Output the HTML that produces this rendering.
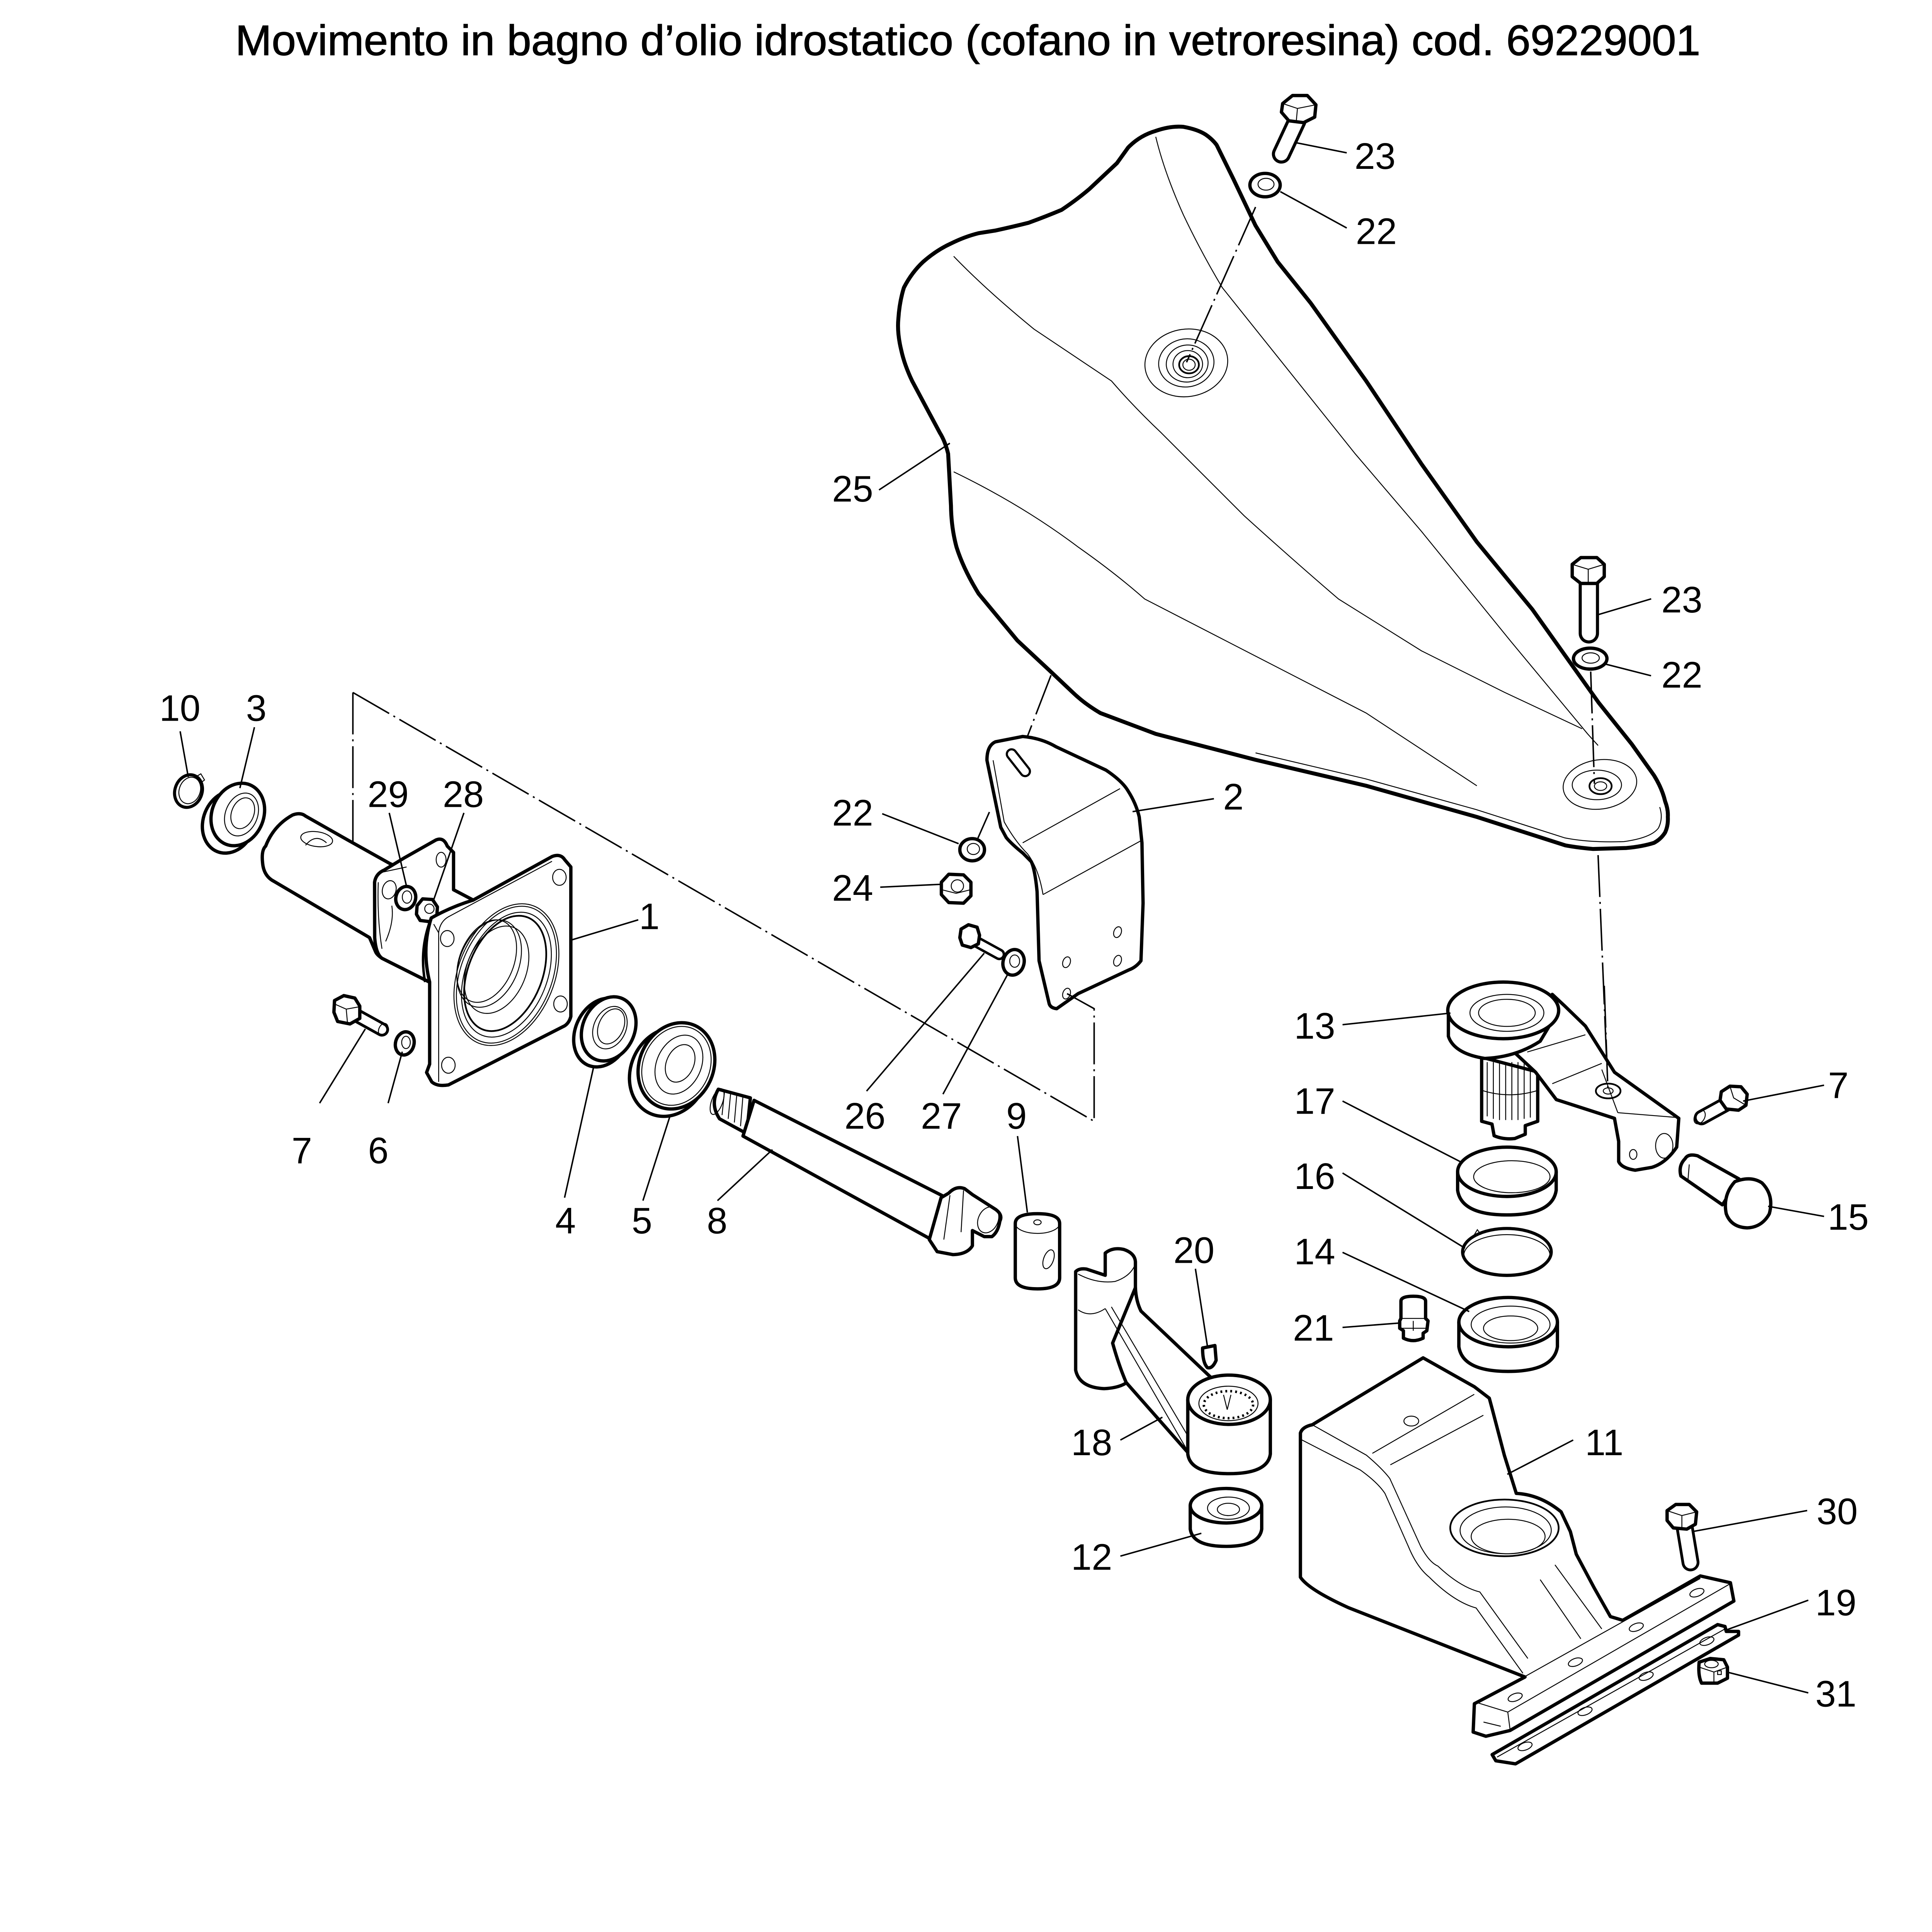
<!DOCTYPE html>
<html>
<head>
<meta charset="utf-8">
<style>
html,body{margin:0;padding:0;background:#fff;overflow:hidden;}
svg{display:block;position:absolute;left:0;top:0;width:100vw;height:calc(100vw * 5024 / 5342);}
.k{fill:#fff;stroke:#000;stroke-width:2.7;stroke-linejoin:round;stroke-linecap:round}
.kh{fill:#fff;stroke:#000;stroke-width:3.2;stroke-linejoin:round;stroke-linecap:round}
.t{fill:none;stroke:#000;stroke-width:0.75}
.m{fill:none;stroke:#000;stroke-width:1.4}
.l{fill:none;stroke:#000;stroke-width:1.2}
.d{fill:none;stroke:#000;stroke-width:1.2;stroke-dasharray:34 4 1.6 4}
text{font-family:"Liberation Sans",Arial,sans-serif;font-size:30px;fill:#000;text-anchor:middle}
</style>
</head>
<body>
<svg xmlns="http://www.w3.org/2000/svg" width="5342" height="5024" viewBox="0 0 1568 1474.6" preserveAspectRatio="xMidYMid meet">
<rect x="0" y="0" width="1568" height="1474.6" fill="#fff"/>

<!-- Title -->
<text x="785.5" y="44.6" style="font-size:34.5px;stroke:#000;stroke-width:0.45" textLength="1189" lengthAdjust="spacingAndGlyphs">Movimento in bagno d’olio idrostatico (cofano in vetroresina) cod. 69229001</text>

<!-- ===== HOOD 25 ===== -->
<path class="kh" d="M906.5,132.4 L915.6,119.7 Q925,110 938,106.2 Q950,102 960.5,102.9 Q972,105 978.5,109.2 Q984,113 987.4,117.6 L1000.9,145 L1018.9,182.9 L1036.9,212.4 L1063.8,246 L1108.8,309.2 L1153.7,376.6 L1198.6,439.8 L1243.6,494.5 L1279.5,545 L1297.5,570.3 L1324.4,604 L1342.4,629.3 Q1349,640 1351.4,650.3 Q1354,657 1353.6,663 Q1354,670 1351.4,675.6 Q1348,681 1342.4,684 Q1333,687 1320,688.2 L1293,689 Q1281,688 1270.5,686.1 L1198.6,663 L1108.8,637.7 L1018.9,616.6 L938,595.6 L893.1,578.7 Q880,571 870.6,561.9 L852.7,545 L825.7,519.8 L794.3,481.9 Q782,462 776.3,444 Q772,428 771.8,410.3 L769.5,368.2 Q767,358 762.8,351.3 L753.8,334.5 L740.3,309.2 Q734,296 731.4,284 Q728,270 729.1,258.7 Q730,245 733.6,233.4 Q740,221 749.3,212.4 Q760,203 771.8,197.6 Q783,192 794.3,189.2 L807.7,187.1 Q822,184 834.7,180.8 Q848,176 861.6,170.3 Q874,162 884.1,153.4 Z"/>
<path class="t" d="M938,111 Q945,140 960.5,174.5 Q975,205 992,233.4 L1045.9,300.8 L1099.8,368.2 L1153.7,431.3 L1225.6,519.8 L1288.5,595.6 L1297,605"/>
<path class="t" d="M774,208 Q800,235 839.2,267.1 L902.1,309.2 Q920,330 942.5,351.3 L1009.9,418.7 Q1050,455 1086.3,486.1 L1153.7,528.2 L1221.1,561.9 L1284,591.4"/>
<path class="t" d="M774,382.9 Q830,410 875.1,444 Q905,465 929,486.1 L1018.9,532.4 L1108.8,578.7 L1198.6,637.7"/>
<path class="t" d="M1019,611 L1108,632 L1198,657 L1270,680 Q1290,684 1318,683 Q1340,680 1346,672 Q1350,664 1347,655"/>
<ellipse class="t" cx="962.8" cy="294.5" rx="33.7" ry="27.4" transform="rotate(-8 962.8 294.5)"/>
<ellipse class="t" cx="962.8" cy="294.5" rx="22.5" ry="19.5" transform="rotate(-8 962.8 294.5)"/>
<ellipse class="t" cx="963.5" cy="295" rx="17" ry="15" transform="rotate(-8 963.5 295)"/>
<ellipse class="t" cx="964" cy="295.5" rx="12" ry="11"/>
<ellipse class="m" cx="965" cy="296" rx="8" ry="7"/>
<ellipse class="t" cx="965" cy="296" rx="5" ry="4.5"/>
<ellipse class="t" cx="1298.5" cy="636.6" rx="30" ry="20" transform="rotate(-8 1298.5 636.6)"/>
<ellipse class="t" cx="1296" cy="637" rx="20" ry="12"/>
<ellipse class="m" cx="1299" cy="638" rx="9" ry="6.5"/>
<ellipse class="t" cx="1299" cy="638" rx="5" ry="3.5"/>
<path class="d" d="M1019,168 L963,294"/>
<path class="d" d="M1291,545 L1294,636"/>
<path class="d" d="M853,548 L826,618"/>
<path class="d" d="M1297,694 L1305,886"/>

<!-- top bolt 23 and washer 22 -->
<path d="M1052.6,98 L1040,125" stroke="#000" stroke-width="15.5" stroke-linecap="round" fill="none"/>
<path d="M1052.6,98 L1040,125" stroke="#fff" stroke-width="10.5" stroke-linecap="round" fill="none"/>
<polygon class="k" stroke-width="2.2" points="1041,84 1049,77.5 1061,77.5 1068,85 1067,95 1058,99.5 1046,98 1040,91"/>
<path class="t" d="M1041,84 L1053,88 L1068,85 M1053,88 L1052,99"/>
<ellipse class="k" stroke-width="2.5" cx="1026.7" cy="150.2" rx="12.3" ry="9.5"/>
<ellipse class="t" cx="1027.5" cy="149.5" rx="6.5" ry="4.8"/>

<!-- lower bolt 23 and washer 22 -->
<path d="M1289.5,471 L1289.5,514" stroke="#000" stroke-width="16.5" stroke-linecap="round" fill="none"/>
<path d="M1289.5,471 L1289.5,514" stroke="#fff" stroke-width="11.5" stroke-linecap="round" fill="none"/>
<polygon class="k" stroke-width="2.2" points="1276,458 1283,452.5 1296,452.5 1302,458 1302,468 1296,473.5 1283,473.5 1276,468"/>
<path class="t" d="M1276,458 L1289,462 L1302,458 M1289,462 L1289,473"/>
<ellipse class="k" stroke-width="2.5" cx="1290.6" cy="534.5" rx="13.6" ry="8.5"/>
<ellipse class="t" cx="1291" cy="534" rx="7" ry="4.2"/>

<!-- ===== BRACKET 2 ===== -->
<path class="k" d="M801,617 Q801,605 808,602 L830,597.7 Q845,599 857,606 L897.6,625 Q911,634 915.6,642 Q922,652 924.6,663 L926.8,684 L927.7,733 L926,779.7 Q922,785 916.5,787 L875,806.4 L857.6,818.6 Q852,818 851.3,813.7 L843.3,779.7 L841.7,723.7 Q840,706 837,699.3 L830.2,692.4 Q821,685 816.7,679.8 L812.2,671.4 Z"/>
<path class="t" d="M830,684 L909,640 M846.5,726 L926,682.3 M806,617 L815,667 Q824,683 834,693 Q843,705 846.5,726"/>
<ellipse class="t" cx="907" cy="756.5" rx="3" ry="4.5" transform="rotate(20 907 756.5)"/>
<ellipse class="t" cx="907" cy="779.7" rx="3" ry="4.5" transform="rotate(20 907 779.7)"/>
<ellipse class="t" cx="865.6" cy="780.9" rx="3" ry="4.5" transform="rotate(20 865.6 780.9)"/>
<ellipse class="t" cx="865.6" cy="806.4" rx="3" ry="4.5" transform="rotate(20 865.6 806.4)"/>
<path d="M821,612 L832,626" stroke="#000" stroke-width="9.5" stroke-linecap="round"/>
<path d="M821,612 L832,626" stroke="#fff" stroke-width="6" stroke-linecap="round"/>

<!-- left washer 22, nut 24, screw 26, washer 27 -->
<path class="d" d="M792,684 L803,659"/>
<ellipse class="k" stroke-width="2.5" cx="789" cy="689.6" rx="10" ry="9"/>
<ellipse class="t" cx="790" cy="689" rx="5" ry="4.5"/>
<polygon class="k" stroke-width="2.2" points="764,716 770,709.5 782,710 788,716 788,727 782,733 770,732.5 764,726"/>
<circle class="t" cx="777" cy="719" r="5"/>
<path class="t" d="M764,722 L776,725 L788,722"/>
<path d="M790,763 L811,774.5" stroke="#000" stroke-width="9.5" stroke-linecap="round"/>
<path d="M790,763 L811,774.5" stroke="#fff" stroke-width="5.5" stroke-linecap="round"/>
<polygon class="k" stroke-width="2" points="780,754 786,750.5 793,752.5 795,759 794,766 788,769 781,767 779,761"/>
<ellipse class="k" stroke-width="2.5" cx="822.6" cy="781" rx="8.5" ry="10.5" transform="rotate(15 822.6 781)"/>
<ellipse class="t" cx="823.5" cy="780" rx="4" ry="5"/>

<!-- long dash-dot line -->
<path class="d" d="M286.4,562 L888,910 L888,818.6 L866,806.4"/>
<path class="d" d="M286.4,562 L286.4,703.6 L299.9,712"/>

<!-- ===== PART 1 ===== -->
<path class="k" d="M237.5,661.4 Q244,659 248,662.3 L282.2,681.7 L316.7,701 L368,722 L384,730.5 L384,790 L348.7,797.1 L310,777.7 Q306,775 304.9,772.6 L299.9,760.9 L222.4,715.3 Q214,711 213.1,700.2 Q212,690 215.6,686.7 Q222,670 237.5,661.4 Z"/>
<ellipse class="t" cx="257" cy="681" rx="13" ry="6" transform="rotate(8 257 681)"/>
<path class="t" d="M248,686 Q256,676 265,684"/>
<path class="k" d="M304,716 Q305,709 312,706 L328.5,696 L353.8,681.7 Q360,679 363,686.7 L368.1,691.8 L368.1,722.1 L384.1,730.5 L384,790 L348.7,797.1 L310,777.7 Q305,774 304.1,760.9 Z"/>
<path class="t" d="M306.6,708.6 L330,703.6 M313,764 Q320,748 318,735 M310,770 Q306,745 307,716"/>
<ellipse class="t" cx="315.9" cy="722.1" rx="5.5" ry="7.5" transform="rotate(15 315.9 722.1)"/>
<ellipse class="t" cx="358" cy="697.7" rx="4" ry="6"/>
<ellipse class="k" stroke-width="2.2" cx="329.3" cy="728.8" rx="8" ry="9.5" transform="rotate(15 329.3 728.8)"/>
<ellipse class="t" cx="330.3" cy="728" rx="3.8" ry="5"/>
<polygon class="k" stroke-width="2.2" points="338.5,735 343,729.5 351,730 355,736 354.5,744 349,748 341,747 338,742"/>
<circle class="t" cx="348.5" cy="737.5" r="3.8"/>
<path class="k" d="M384,730.5 L448.1,695.1 Q455,692.5 458.3,697.7 L463.3,703.6 L463.3,824.9 Q462,830 458.3,832.5 L363.9,880.5 Q355,882 350.4,878 L346.2,870.4 L348.7,863.6 L348.7,797 Q342,770 350,745 Q366,736 384,730.5 Z"/>
<path class="t" d="M356,878 L356,757 Q357,748 364,744 L448,699 M356,757 L352,750"/>
<path fill="none" stroke="#000" stroke-width="2" d="M350,745 Q340,770 345,797"/>
<ellipse class="t" cx="363" cy="761.7" rx="5.5" ry="6.5"/>
<ellipse class="t" cx="454" cy="712" rx="5.5" ry="6.5"/>
<ellipse class="t" cx="454.9" cy="814.8" rx="5.5" ry="6.5"/>
<ellipse class="t" cx="363.9" cy="864.5" rx="5.5" ry="6.5"/>
<ellipse class="t" cx="411" cy="791" rx="39" ry="60" transform="rotate(22 411 791)"/>
<ellipse class="t" cx="411" cy="791" rx="37" ry="58" transform="rotate(22 411 791)"/>
<ellipse class="t" cx="411" cy="791" rx="33" ry="53" transform="rotate(22 411 791)"/>
<ellipse class="m" cx="410" cy="790" rx="30" ry="49" transform="rotate(22 410 790)"/>
<ellipse class="t" cx="397" cy="782" rx="24" ry="37" transform="rotate(22 397 782)"/>
<ellipse class="t" cx="395" cy="780" rx="22" ry="35" transform="rotate(22 395 780)"/>
<ellipse class="t" cx="403" cy="787" rx="24" ry="37" transform="rotate(22 403 787)"/>

<!-- circlip 10 -->
<ellipse cx="153" cy="642" rx="11" ry="13.5" transform="rotate(20 153 642)" fill="none" stroke="#000" stroke-width="2.5"/>
<ellipse class="t" cx="154" cy="641.5" rx="8.5" ry="11" transform="rotate(20 154 641.5)"/>
<path class="t" d="M158,631 L163,628 L166,633 L162,636"/>
<!-- bearing 3 -->
<ellipse class="k" cx="186" cy="667" rx="21" ry="26" transform="rotate(22 186 667)"/>
<ellipse class="k" cx="193" cy="661" rx="21" ry="26" transform="rotate(22 193 661)"/>
<ellipse class="t" cx="196" cy="661" rx="13" ry="18" transform="rotate(22 196 661)"/>
<ellipse class="t" cx="197" cy="660" rx="9" ry="13" transform="rotate(22 197 660)"/>

<!-- bolt 7 left & washer 6 -->
<path d="M284.7,821.5 L310,835.5" stroke="#000" stroke-width="11.5" stroke-linecap="round"/>
<path d="M284.7,821.5 L310,835.5" stroke="#fff" stroke-width="7" stroke-linecap="round"/>
<ellipse class="t" cx="311" cy="835.5" rx="3.5" ry="5.2" transform="rotate(25 311 835.5)"/>
<polygon class="k" stroke-width="2.2" points="271.5,812 279,808 288,810 292,816.5 292,826.5 284,831 274,829 271,821.5"/>
<path class="t" d="M272,815 L281,819 L292,817 M281,819 L282,830"/>
<ellipse class="k" stroke-width="2.2" cx="328.5" cy="846.8" rx="7.5" ry="9.5" transform="rotate(15 328.5 846.8)"/>
<ellipse class="t" cx="329.5" cy="846" rx="3.5" ry="5"/>

<!-- seal 4 -->
<ellipse class="k" cx="489" cy="838" rx="22" ry="29" transform="rotate(25 489 838)"/>
<ellipse class="k" stroke-width="2.2" cx="494" cy="835" rx="21" ry="27" transform="rotate(25 494 835)"/>
<ellipse class="t" cx="495" cy="834" rx="13" ry="18" transform="rotate(25 495 834)"/>
<ellipse class="t" cx="496" cy="833" rx="10" ry="15" transform="rotate(25 496 833)"/>
<!-- bearing 5 -->
<ellipse class="k" cx="543" cy="870" rx="31" ry="37" transform="rotate(25 543 870)"/>
<ellipse class="k" cx="549" cy="865" rx="30" ry="36" transform="rotate(25 549 865)"/>
<ellipse class="t" cx="549" cy="865" rx="27" ry="33" transform="rotate(25 549 865)"/>
<ellipse class="t" cx="551" cy="864" rx="18" ry="25" transform="rotate(25 551 864)"/>
<ellipse class="t" cx="552" cy="863" rx="11" ry="16" transform="rotate(25 552 863)"/>

<!-- shaft 8 -->
<path class="k" d="M583,884 L609,891 L606,920 L584,908 Q576,896 583,884 Z"/>
<path class="t" d="M588,886 L586,905 M593,887 L591,908 M598,888 L596,911 M603,889 L601,914"/>
<ellipse class="t" cx="582" cy="894" rx="4.5" ry="11" transform="rotate(20 582 894)"/>
<path class="k" d="M612,893 L766,971 L756,1006 L603,922 Z"/>
<path class="k" d="M763.8,972 L770,968.3 Q776,962 782.9,964.7 L789.2,969.5 L808.3,981.7 Q814,986 811.5,991 Q810,1000 805,1003.6 L798.8,1003.6 L789.2,998.7 L789.2,1011 Q785,1018 773.3,1018.2 L760.6,1015.8 L754.2,1006 Z"/>
<ellipse class="t" cx="802" cy="990" rx="8" ry="11" transform="rotate(25 802 990)"/>
<path class="t" d="M771,970 L766,1006 M782,966 L780,1000"/>

<!-- pin 9 -->
<path class="k" d="M824,993 L824,1037 Q824,1046 842,1046 Q860,1046 860,1037 L860,993 Q860,985 842,985 Q824,985 824,993 Z"/>
<ellipse class="t" cx="842" cy="993" rx="18" ry="8"/>
<ellipse class="t" cx="842" cy="992" rx="3" ry="2"/>
<ellipse class="t" cx="851" cy="1022" rx="4" ry="8" transform="rotate(20 851 1022)"/>

<!-- ===== PART 18 ===== -->
<path class="k" d="M873,1032 Q876,1029 882,1030 L897,1035 L897,1017 Q903,1012 912,1014 Q921,1017 921.5,1024 L921.5,1112 Q918,1126 896,1127 Q876,1126 873,1112 Z"/>
<path class="t" d="M875,1034 Q890,1042 905,1040 Q917,1036 921,1027 M875,1063 Q885,1070 897,1062"/>
<path class="k" d="M921.5,1045 Q922,1056 926,1064 L985,1120 L966,1181 L914,1122 Q908,1108 903,1090 Z"/>
<path class="t" d="M897,1062 L965,1179.5 M902,1060.6 L968,1172"/>
<path class="k" d="M964,1136 L964,1180 Q966,1196 997.5,1196 Q1029,1196 1031,1180 L1031,1136 Z"/>
<ellipse class="k" cx="997.5" cy="1136" rx="33.5" ry="20"/>
<ellipse class="t" cx="997" cy="1139" rx="24" ry="14"/>
<ellipse cx="997" cy="1140" rx="20" ry="11" fill="none" stroke="#000" stroke-width="2" stroke-dasharray="1.5 2.5"/>
<path class="t" d="M993,1132 L996,1144 L999,1132"/>
<path class="k" stroke-width="2" d="M976,1094 L986,1092 L987,1104 Q984,1111 980,1110 Q976,1106 976,1094 Z"/>
<!-- bearing 12 -->
<path class="k" d="M966,1222 L966,1241 Q968,1255 995,1255 Q1022,1255 1024,1241 L1024,1222 Z"/>
<ellipse class="k" stroke-width="1.8" cx="995" cy="1222" rx="29" ry="14"/>
<ellipse class="t" cx="997" cy="1224" rx="17" ry="9"/>
<ellipse class="t" cx="997" cy="1225" rx="9" ry="5"/>

<!-- ===== PART 11 ===== -->
<path class="k" d="M1155,1102 L1196.5,1125.4 L1208.7,1134.7 L1211.2,1144 L1220.9,1181 L1230.6,1212 Q1250,1213 1267,1227 L1274.5,1243 L1279.3,1261.4 L1294,1289 L1307,1312 L1317,1315 L1380,1279 L1404.4,1284.5 L1407.2,1299.4 L1225.6,1404.4 L1205.9,1409.1 L1195.6,1405.7 L1196.6,1382.7 L1237.7,1361 L1094.3,1304.7 Q1062,1290 1055.4,1280 L1055.4,1163 Q1057,1158 1065,1156.3 Z"/>
<path class="t" d="M1065,1156.3 L1109,1181 Q1122,1192 1128,1200 L1153,1255 Q1160,1268 1167,1271"/>
<path class="t" d="M1055.4,1168 L1104,1193 Q1118,1203 1124,1212 L1143,1255 Q1150,1272 1160,1280"/>
<path class="t" d="M1113.8,1179.5 L1196.5,1131.6 M1128.4,1188.8 L1203.9,1148.6"/>
<path class="t" d="M1167,1271 Q1185,1288 1201,1292 L1240,1346 M1160,1280 Q1180,1300 1198,1305 L1236,1358 M1262,1270 L1300,1322 M1250,1282 L1283,1330"/>
<ellipse class="t" cx="1145.4" cy="1153.3" rx="6" ry="4"/>
<ellipse class="m" cx="1221" cy="1240" rx="44" ry="23"/>
<ellipse class="t" cx="1222" cy="1242" rx="37" ry="19"/>
<ellipse class="t" cx="1224" cy="1247" rx="30" ry="14"/>
<path class="t" d="M1199.4,1382 L1380,1281 M1223.7,1389.5 L1403.4,1285.8 M1223.7,1389.5 L1225.6,1404 M1199.4,1382 L1223.7,1389.5 M1204,1397.6 L1218,1401"/>
<ellipse class="t" cx="1377.2" cy="1292.6" rx="6" ry="3" transform="rotate(-20 1377.2 1292.6)"/>
<ellipse class="t" cx="1328" cy="1320.6" rx="6" ry="3" transform="rotate(-20 1328 1320.6)"/>
<ellipse class="t" cx="1278.6" cy="1349" rx="6" ry="3" transform="rotate(-20 1278.6 1349)"/>
<ellipse class="t" cx="1229.7" cy="1377.5" rx="6" ry="3" transform="rotate(-20 1229.7 1377.5)"/>

<!-- strip 19 -->
<path class="k" d="M1394,1318.5 L1400,1320 L1401,1324 L1411,1324 L1411,1327 L1230,1431.5 L1214,1429 L1211,1424 Z"/>
<path class="t" d="M1215,1426 L1400,1322"/>
<ellipse class="t" cx="1385.3" cy="1331.9" rx="6" ry="3" transform="rotate(-20 1385.3 1331.9)"/>
<ellipse class="t" cx="1336" cy="1360.3" rx="6" ry="3" transform="rotate(-20 1336 1360.3)"/>
<ellipse class="t" cx="1286.4" cy="1388.8" rx="6" ry="3" transform="rotate(-20 1286.4 1388.8)"/>
<ellipse class="t" cx="1237.7" cy="1417.3" rx="6" ry="3" transform="rotate(-20 1237.7 1417.3)"/>

<!-- bolt 30 -->
<path d="M1367,1238 L1372,1268" stroke="#000" stroke-width="14.5" stroke-linecap="round"/>
<path d="M1367,1238 L1372,1268" stroke="#fff" stroke-width="10" stroke-linecap="round"/>
<polygon class="k" stroke-width="2.2" points="1353,1226 1360,1221 1371,1221 1377,1227 1376,1237 1369,1241 1358,1240 1353,1234"/>
<path class="t" d="M1353,1226 L1365,1230 L1377,1227 M1365,1230 L1365,1241"/>
<!-- nut 31 -->
<path class="k" stroke-width="2.2" d="M1379,1349 L1388,1346 L1399,1347 L1402,1353 L1402,1362 L1394,1366 L1381,1366 Q1378,1360 1379,1349 Z"/>
<ellipse class="t" cx="1389" cy="1350.5" rx="5.5" ry="3"/>
<path class="t" d="M1379,1353 L1391,1357 L1402,1353 M1391,1357 L1391,1366"/>
<rect class="t" x="1394" y="1356" width="3" height="3"/>

<!-- ===== PART 13 ===== -->
<path class="k" d="M1202.5,858 L1202.5,910 L1210.9,912.3 L1212.6,921.7 Q1220,925 1229.4,924 L1237.9,920.5 L1237.9,913.5 L1248,910 L1248,870 Z"/>
<path class="t" d="M1207,862 L1207,906 M1212,862 L1212,908 M1217,862 L1217,909 M1222,862 L1222,909 M1227,862 L1227,909 M1232,862 L1232,909 M1237,862 L1237,908 M1242,862 L1242,907 M1203,885 Q1225,892 1248,885"/>
<path class="k" d="M1259.8,807 L1269.9,816.4 L1286.7,832.7 L1310.3,870.2 L1362.5,907.6 L1360.8,931 Q1352,944 1340.6,947.4 L1327.1,949.7 Q1316,948 1313.7,942.7 L1313.7,926.3 L1310.3,907.6 L1263.1,892.4 L1246.3,870.2 L1229,854 Z"/>
<path class="t" d="M1239.5,853.8 L1286.7,839.8 M1259.8,879.5 L1300,863 M1313,903 L1362,907 M1313,903 L1300,868"/>
<path class="k" d="M1175.5,820 L1175.5,841 Q1180,855 1205,859 Q1230,858 1250,845 L1265,820 Z"/>
<ellipse class="k" cx="1220" cy="820" rx="45" ry="23"/>
<ellipse class="t" cx="1223" cy="822" rx="30" ry="15"/>
<ellipse class="t" cx="1223" cy="822" rx="23" ry="11"/>
<ellipse class="m" cx="1305.2" cy="885.4" rx="10" ry="6"/>
<ellipse class="t" cx="1305.2" cy="885.4" rx="4" ry="2.5"/>
<ellipse class="t" cx="1350.7" cy="929.9" rx="7" ry="10"/>
<ellipse class="t" cx="1325.5" cy="936.9" rx="3" ry="4"/>
<path class="d" d="M1302,800 L1305,886"/>

<!-- ring 17 -->
<path class="k" d="M1183,951 L1183,966 Q1186,986 1223,986 Q1260,986 1263,966 L1263,951 Z"/>
<ellipse class="k" cx="1223" cy="951" rx="40" ry="20"/>
<ellipse class="t" cx="1227" cy="955" rx="31" ry="13"/>
<!-- circlip 16 -->
<ellipse cx="1223" cy="1016" rx="36" ry="19" fill="none" stroke="#000" stroke-width="2.5"/>
<ellipse class="t" cx="1223" cy="1019" rx="35" ry="17"/>
<path class="t" d="M1196,1003 L1199,998 L1202,1002"/>
<!-- bearing 14 -->
<path class="k" d="M1184,1073 L1184,1093 Q1187,1113 1224,1113 Q1261,1113 1264,1093 L1264,1073 Z"/>
<ellipse class="k" cx="1224" cy="1073" rx="40" ry="20"/>
<ellipse class="t" cx="1226" cy="1075" rx="32" ry="15"/>
<ellipse class="t" cx="1226" cy="1078" rx="22" ry="10"/>
<!-- fitting 21 -->
<path class="k" stroke-width="2.2" d="M1137,1056 Q1137,1052 1147,1052 Q1157,1052 1157,1056 L1157,1070 L1159,1072 L1158,1080 L1155,1082 L1155,1086 Q1147,1090 1139,1086 L1139,1080 L1136,1078 L1136,1072 L1137,1070 Z"/>
<path class="t" d="M1137,1070 L1157,1070 M1136,1078 L1158,1078 M1147,1072 L1147,1080"/>

<!-- bolt 7 right -->
<path d="M1381,907 L1401,896" stroke="#000" stroke-width="12.5" stroke-linecap="round"/>
<path d="M1381,907 L1401,896" stroke="#fff" stroke-width="8" stroke-linecap="round"/>
<ellipse class="t" cx="1379.4" cy="906.5" rx="4" ry="6" transform="rotate(30 1379.4 906.5)"/>
<polygon class="k" stroke-width="2.2" points="1397,886 1404,881.5 1413,882 1418,888 1417,897 1411,901 1401,900 1396,893"/>
<path class="t" d="M1404,881.5 L1407,891 L1417,897"/>
<!-- pin 15 -->
<path class="k" d="M1367.6,940.4 Q1370,936 1377.7,938 L1411.4,956.8 L1397.9,977.8 L1364.2,954.4 Q1362,946 1367.6,940.4 Z"/>
<path class="k" d="M1408,959 Q1421,954 1430,960 Q1440,970 1436,985 Q1430,996 1418,996.5 Q1405,996 1401,985 Q1398,970 1408,959 Z"/>
<path class="t" d="M1371,945 L1370,957"/>

<!-- ===== LEADER LINES ===== -->
<g class="l">
<path d="M1050.4,115.5 L1093,124"/>
<path d="M1039.1,155.5 L1093,185"/>
<path d="M1297.5,498.7 L1340.1,486"/>
<path d="M1302,538.7 L1340,548.4"/>
<path d="M713.4,397.6 L770.9,359.7"/>
<path d="M919.2,658.7 L985.2,648.2"/>
<path d="M716,660.4 L778,684.7"/>
<path d="M714.4,720 L765.3,717.6"/>
<path d="M798.8,773.6 L703.3,885.5"/>
<path d="M817.9,790.6 L765.3,888"/>
<path d="M825.8,922 L833.8,984"/>
<path d="M482,864.9 L458.2,972"/>
<path d="M544,905 L521.8,974.4"/>
<path d="M626.9,933 L582.3,974.4"/>
<path d="M463.3,763 L518,746.5"/>
<path d="M146.2,593.5 L152.8,630.6"/>
<path d="M206.5,590.2 L194.7,639.6"/>
<path d="M315.9,659.7 L330.2,720.4"/>
<path d="M376.5,659.7 L351.3,732.2"/>
<path d="M296.5,835 L259.4,895.3"/>
<path d="M326.5,853.5 L315,895.3"/>
<path d="M1089.6,831.6 L1177.2,822.2"/>
<path d="M1089.6,893.6 L1187.3,943.9"/>
<path d="M1089.6,952 L1189,1013"/>
<path d="M1089.6,1016.4 L1192.4,1064.4"/>
<path d="M1089.6,1077.3 L1135.1,1073.8"/>
<path d="M1414.7,893.6 L1480.4,880.7"/>
<path d="M1435,979 L1480.4,987.2"/>
<path d="M970.2,1029.7 L980,1093"/>
<path d="M909.3,1168.7 L943.4,1150.2"/>
<path d="M909.3,1262.9 L975,1244.4"/>
<path d="M1223.3,1196.5 L1276.8,1168.7"/>
<path d="M1374.2,1242.9 L1466.7,1225.9"/>
<path d="M1400.6,1323 L1467.6,1298.7"/>
<path d="M1401.6,1357 L1467.6,1373.9"/>
</g>

<!-- ===== LABELS ===== -->
<text x="1116" y="137">23</text>
<text x="1117" y="198">22</text>
<text x="692" y="407">25</text>
<text x="1365" y="497">23</text>
<text x="1365" y="558">22</text>
<text x="1001" y="657">2</text>
<text x="146" y="585">10</text>
<text x="208" y="585">3</text>
<text x="315" y="655">29</text>
<text x="376" y="655">28</text>
<text x="527" y="754">1</text>
<text x="692" y="670">22</text>
<text x="692" y="731">24</text>
<text x="702" y="916">26</text>
<text x="764" y="916">27</text>
<text x="825" y="916">9</text>
<text x="245" y="944">7</text>
<text x="307" y="944">6</text>
<text x="459" y="1001">4</text>
<text x="521" y="1001">5</text>
<text x="582" y="1001">8</text>
<text x="1067" y="843">13</text>
<text x="1067" y="904">17</text>
<text x="1067" y="965">16</text>
<text x="1067" y="1026">14</text>
<text x="1066" y="1088">21</text>
<text x="1492" y="891">7</text>
<text x="1500" y="998">15</text>
<text x="969" y="1025">20</text>
<text x="886" y="1181">18</text>
<text x="886" y="1274">12</text>
<text x="1302" y="1181">11</text>
<text x="1491" y="1237">30</text>
<text x="1490" y="1311">19</text>
<text x="1490" y="1385">31</text>
</svg>
</body>
</html>
